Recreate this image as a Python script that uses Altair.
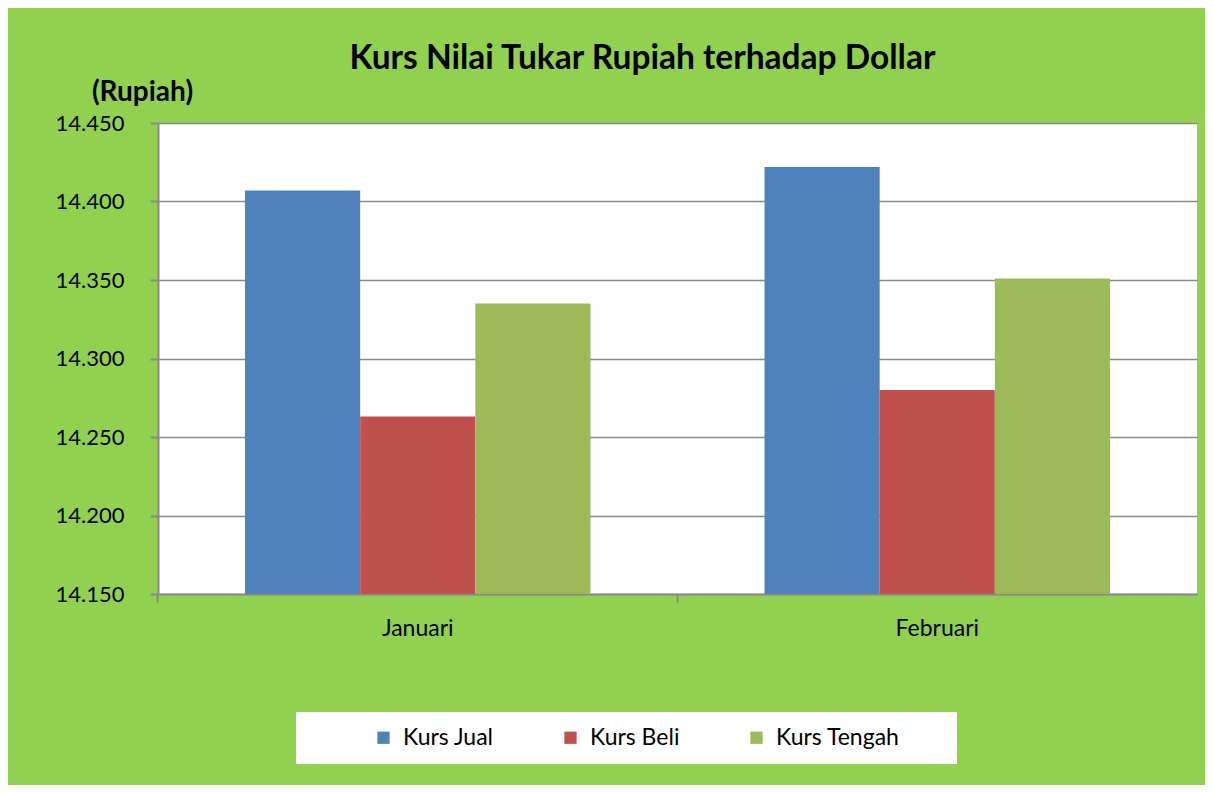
import altair as alt
import pandas as pd

months = ["Januari", "Februari"]
series = ["Kurs Jual", "Kurs Beli", "Kurs Tengah"]
kurs_jual = [14407, 14422]
kurs_beli = [14263, 14280]
kurs_tengah = [14335, 14351]
colors = ["#4F81BD", "#C0504D", "#9BBB59"]
y_ticks = [14150, 14200, 14250, 14300, 14350, 14400, 14450]

rows = []
for i, m in enumerate(months):
    for s, vals in zip(series, [kurs_jual, kurs_beli, kurs_tengah]):
        rows.append({"Bulan": m, "Kurs": s, "Nilai": vals[i]})
df = pd.DataFrame(rows)

FONT = "Lato"

chart = alt.Chart(df).mark_bar().encode(
    x=alt.X("Bulan:N", sort=months,
            scale=alt.Scale(paddingInner=0.335, paddingOuter=0.1675),
            axis=alt.Axis(title=None, labelAngle=0, labelFontSize=23, labelFont=FONT,
                          labelColor="black", labelPadding=15, tickSize=8,
                          tickColor="#8a8a8a", tickWidth=2, domainColor="#8a8a8a",
                          domainWidth=2, bandPosition=-0.252, grid=False)),
    xOffset=alt.XOffset("Kurs:N", sort=series, scale=alt.Scale(paddingInner=0, paddingOuter=0)),
    y=alt.Y("Nilai:Q",
            scale=alt.Scale(domain=[y_ticks[0], y_ticks[-1]], zero=False, nice=False),
            axis=alt.Axis(title="(Rupiah)", values=y_ticks,
                          labelExpr="replace(format(datum.value, ','), ',', '.')",
                          labelFontSize=22, labelFont=FONT, labelColor="black",
                          labelPadding=26, tickSize=8, tickColor="#8a8a8a", tickWidth=2,
                          domainColor="#8a8a8a", domainWidth=2,
                          gridColor="#8a8a8a", gridWidth=1.5,
                          titleAngle=0, titleAlign="center", titleBaseline="alphabetic",
                          titleX=-16, titleY=-23, titleFontSize=28, titleFont=FONT,
                          titleFontWeight="bold", titleColor="black")),
    y2=alt.datum(y_ticks[0]),
    color=alt.Color("Kurs:N", sort=series,
                    scale=alt.Scale(domain=series, range=colors),
                    legend=alt.Legend(orient="none", legendX=138, legendY=589,
                                      direction="horizontal", columns=3,
                                      title="MMM", titleOrient="right",
                                      titleOpacity=0, titleFontSize=17, titlePadding=0,
                                      fillColor="white", padding=14,
                                      symbolType="square", symbolSize=150,
                                      symbolStrokeWidth=0, symbolOpacity=1,
                                      symbolOffset=62,
                                      labelFontSize=23, labelFont=FONT,
                                      labelColor="black", labelOffset=8,
                                      labelLimit=400, columnPadding=3)),
).properties(
    width=1039, height=471,
    title=alt.TitleParams("Kurs Nilai Tukar Rupiah terhadap Dollar", font=FONT,
                          fontSize=33.5, fontWeight="bold", color="black",
                          anchor="middle", frame="group", dx=-35, offset=2),
    autosize=alt.AutoSizeParams(type="none"),
    padding={"left": 150, "top": 115, "right": 8, "bottom": 191},
    background="#92D050",
).configure_view(stroke=None, fill="white")

chart.save("out.html", embed_options={"renderer": "svg", "actions": False})
